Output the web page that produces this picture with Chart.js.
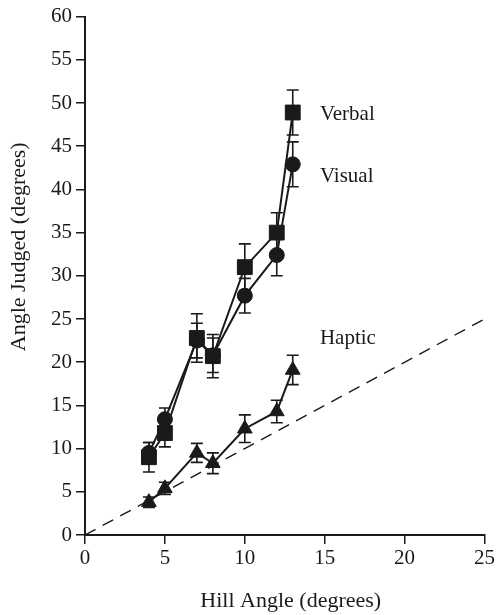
<!DOCTYPE html>
<html>
<head>
<meta charset="utf-8">
<script src="https://cdn.jsdelivr.net/npm/chart.js@4"></script>
<style>
  html, body { margin: 0; padding: 0; background: #fff; }
  #wrap { width: 497px; height: 615px; }
</style>
</head>
<body>
<div id="wrap"><canvas id="hillChart" width="497" height="615"></canvas></div>
<script>
// Angle judged vs hill angle

const hillAngles = [4, 5, 7, 8, 10, 12, 13];
const verbal = [9.0, 11.8, 22.8, 20.7, 31.0, 35.0, 48.9];
const verbalErr = [1.7, 1.6, 2.8, 2.5, 2.7, 2.3, 2.6];
const visual = [9.5, 13.4, 22.5, 20.8, 27.7, 32.4, 42.9];
const visualErr = [1.2, 1.3, 2.0, 2.0, 2.0, 2.4, 2.6];
const haptic = [3.8, 5.4, 9.5, 8.3, 12.3, 14.3, 19.1];
const hapticErr = [0.6, 0.7, 1.1, 1.2, 1.6, 1.3, 1.7];
const idealX = [0, 25];
const idealY = [0, 25];
const xTicks = [0, 5, 10, 15, 20, 25];
const yTicks = [0, 5, 10, 15, 20, 25, 30, 35, 40, 45, 50, 55, 60];
const seriesNames = ['Verbal', 'Visual', 'Haptic'];
const nameAt = [[14.7, 48.7], [14.7, 41.5], [14.7, 22.8]];
const xTitle = 'Hill Angle (degrees)';
const yTitle = 'Angle Judged (degrees)';

const ink = '#1a1a1a';
const serif = '"Liberation Serif", "DejaVu Serif", serif';

function pts(xs, ys) {
    return xs.map((x, i) => ({ x: x, y: ys[i] }));
}

const errorBars = {
    id: 'errorBars',
    afterDatasetsDraw(chart) {
        const ctx = chart.ctx;
        const xs = chart.scales.x, ys = chart.scales.y;
        const errs = [verbalErr, visualErr, hapticErr];
        ctx.save();
        ctx.strokeStyle = ink;
        ctx.lineWidth = 1.6;
        errs.forEach((err, d) => {
            const vals = [verbal, visual, haptic][d];
            hillAngles.forEach((h, i) => {
                const px = xs.getPixelForValue(h);
                const top = ys.getPixelForValue(vals[i] + err[i]);
                const bot = ys.getPixelForValue(vals[i] - err[i]);
                ctx.beginPath();
                ctx.moveTo(px, top); ctx.lineTo(px, bot);
                ctx.moveTo(px - 6, top); ctx.lineTo(px + 6, top);
                ctx.moveTo(px - 6, bot); ctx.lineTo(px + 6, bot);
                ctx.stroke();
            });
        });
        // series names
        ctx.fillStyle = ink;
        ctx.font = '21px ' + serif;
        ctx.textAlign = 'left';
        ctx.textBaseline = 'middle';
        seriesNames.forEach((n, i) => {
            ctx.fillText(n, xs.getPixelForValue(nameAt[i][0]), ys.getPixelForValue(nameAt[i][1]));
        });
        // axis titles (placed off-centre like the original)
        ctx.font = '22px ' + serif;
        ctx.textAlign = 'center';
        ctx.fillText(xTitle, (xs.left + xs.right) / 2 + 6, chart.height - 14);
        ctx.translate(19, (ys.top + ys.bottom) / 2 - 29);
        ctx.rotate(-Math.PI / 2);
        ctx.fillText(yTitle, 0, 0);
        ctx.restore();
    }
};

function series(label, ys, style, radius) {
    return {
        label: label,
        data: pts(hillAngles, ys),
        borderColor: ink,
        backgroundColor: ink,
        borderWidth: 2,
        pointStyle: style,
        pointRadius: radius,
        pointBorderWidth: 1,
        pointBackgroundColor: ink,
        pointBorderColor: ink
    };
}

new Chart(document.getElementById('hillChart').getContext('2d'), {
    type: 'line',
    data: {
        datasets: [
            {
                label: 'y = x',
                data: pts(idealX, idealY),
                borderColor: ink,
                borderWidth: 1.4,
                borderDash: [12, 8],
                pointRadius: 0
            },
            series('Haptic', haptic, 'triangle', 8.5),
            series('Visual', visual, 'circle', 7.5),
            series('Verbal', verbal, 'rect', 10.5)
        ]
    },
    options: {
        responsive: false,
        animation: false,
        layout: { padding: { top: 15, right: 11, left: 0, bottom: 0 } },
        plugins: { legend: { display: false }, tooltip: { enabled: false } },
        scales: {
            x: {
                type: 'linear',
                min: 0, max: 25,
                afterFit: s => { s.height = 80; },
                afterBuildTicks: s => { s.ticks = xTicks.map(v => ({ value: v })); },
                grid: { drawOnChartArea: false, tickLength: 9, color: ink, lineWidth: 1.5 },
                border: { display: true, color: ink, width: 2 },
                ticks: { color: ink, font: { family: serif, size: 21 }, padding: 2, maxRotation: 0 },
                title: { display: false }
            },
            y: {
                type: 'linear',
                min: 0, max: 60,
                afterFit: s => { s.width = 85; },
                afterBuildTicks: s => { s.ticks = yTicks.map(v => ({ value: v })); },
                grid: { drawOnChartArea: false, tickLength: 9, color: ink, lineWidth: 1.5 },
                border: { display: true, color: ink, width: 2 },
                ticks: { color: ink, font: { family: serif, size: 21 }, padding: 4 },
                title: { display: false }
            }
        }
    },
    plugins: [errorBars]
});
</script>
</body>
</html>
